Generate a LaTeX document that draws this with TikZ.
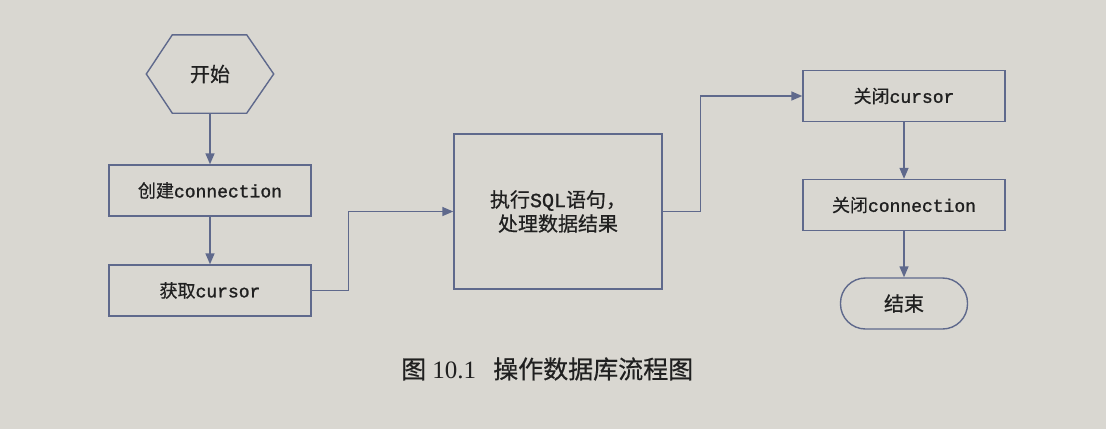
\documentclass[tikz,border=0pt]{standalone}
\usepackage{fontspec}
\setmainfont{Liberation Serif}
\newfontfamily\cjk[FakeBold=0.6]{Noto Sans CJK SC}
\newfontfamily\latinmono[FakeBold=1.4]{Liberation Mono}
\usetikzlibrary{arrows.meta,calc}

\definecolor{paper}{HTML}{D9D7D1}
\definecolor{flow}{HTML}{5F698C}
\definecolor{ink}{HTML}{202020}

\newcommand\zhtxt[1]{{\cjk #1}}
\newcommand\codetxt[1]{{\latinmono #1}}

\tikzset{
  x=1pt, y=-1pt,
  every node/.style={text=ink, inner sep=0pt},
  stepbox/.style={draw=flow, line width=1.4pt, minimum width=202pt,
    minimum height=51pt, font=\fontsize{18pt}{22pt}\selectfont},
  bigbox/.style={draw=flow, line width=1.4pt, minimum width=208pt,
    minimum height=155pt, align=center, font=\fontsize{20pt}{24pt}\selectfont},
  termbox/.style={draw=flow, line width=1.4pt, minimum width=127pt,
    minimum height=51pt, rounded corners=25pt,
    font=\fontsize{20pt}{24pt}\selectfont},
  hexlabel/.style={minimum width=127pt, minimum height=78pt,
    font=\fontsize{20pt}{24pt}\selectfont},
  outline/.style={draw=flow, line width=1.4pt, line join=miter},
  arr/.style={draw=flow, line width=1.4pt,
    -{Triangle[length=11pt,width=9pt]}},
}

\begin{document}
\begin{tikzpicture}
  % paper
  \fill[paper] (0,0) rectangle (1106,429);
  \useasboundingbox (0,0) rectangle (1106,429);

  % left column
  \node[hexlabel] (start) at (210,74) {\zhtxt{开始}};
  \draw[outline] (start.west) -- ($(start.north west)+(26,0)$)
    -- ($(start.north east)+(-27,0)$) -- (start.east)
    -- ($(start.south east)+(-27,0)$) -- ($(start.south west)+(26,0)$)
    -- cycle;
  \node[stepbox] (conn) at (210,190.5) {\zhtxt{创建}\codetxt{connection}};
  \node[stepbox] (cur) at (210,290.5) {\zhtxt{获取}\codetxt{cursor}};

  % middle
  \node[bigbox] (sql) at (558,211.5)
    {\zhtxt{执行}\codetxt{SQL}\zhtxt{语句，}\\\zhtxt{处理数据结果}};

  % right column
  \node[stepbox] (ccur) at (904,96) {\zhtxt{关闭}\codetxt{cursor}};
  \node[stepbox] (cconn) at (904,205) {\zhtxt{关闭}\codetxt{connection}};
  \node[termbox] (stop) at (904,303.5) {\zhtxt{结束}};

  % connectors
  \draw[arr] (start.south) -- (conn.north);
  \draw[arr] (conn.south) -- (cur.north);
  \draw[arr] (cur.east) -- ([xshift=37pt]cur.east) |- (sql.west);
  \draw[arr] (sql.east) -- ([xshift=38pt]sql.east) |- (ccur.west);
  \draw[arr] (ccur.south) -- (cconn.north);
  \draw[arr] (cconn.south) -- (stop.north);

  % caption
  \node[anchor=west, font=\fontsize{25pt}{30pt}\selectfont] (cap) at (401,369)
    {\zhtxt{图} 10.1\hspace{17pt}\zhtxt{操作数据库流程图}};
\end{tikzpicture}
\end{document}
